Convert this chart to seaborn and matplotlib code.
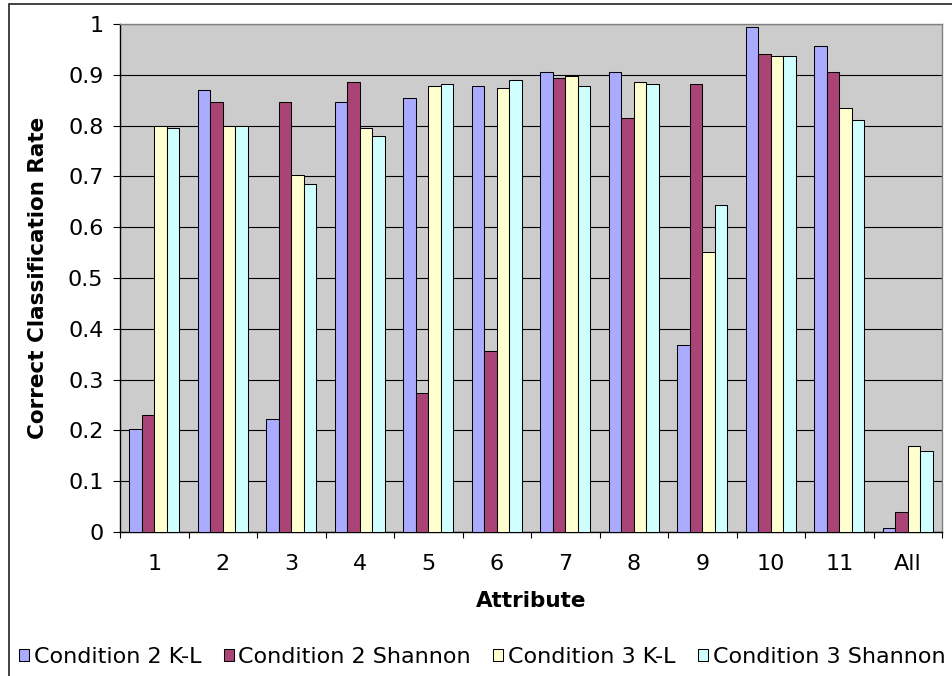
import numpy as np
import pandas as pd
import seaborn as sns
import matplotlib.pyplot as plt
from matplotlib.ticker import FixedLocator, FuncFormatter, MultipleLocator
from matplotlib.patches import Rectangle

attributes = ['1', '2', '3', '4', '5', '6', '7', '8', '9', '10', '11', 'All']
conditions = ['Condition 2 K-L', 'Condition 2 Shannon', 'Condition 3 K-L', 'Condition 3 Shannon']
c2_kl      = [0.203, 0.870, 0.223, 0.846, 0.855, 0.878, 0.905, 0.905, 0.368, 0.995, 0.956, 0.008]
c2_shannon = [0.231, 0.846, 0.846, 0.886, 0.274, 0.356, 0.894, 0.815, 0.882, 0.940, 0.905, 0.039]
c3_kl      = [0.800, 0.800, 0.702, 0.796, 0.878, 0.874, 0.898, 0.886, 0.552, 0.937, 0.835, 0.169]
c3_shannon = [0.796, 0.800, 0.686, 0.780, 0.881, 0.890, 0.878, 0.881, 0.643, 0.937, 0.811, 0.160]
colors = ['#AAAAFF', '#AA4477', '#FFFFD0', '#D0FFFF']

rows = []
for cond, vals in zip(conditions, [c2_kl, c2_shannon, c3_kl, c3_shannon]):
    for a, v in zip(attributes, vals):
        rows.append({'Attribute': a, 'Rate': v, 'Condition': cond})
df = pd.DataFrame(rows)

sns.set_style('white')
plt.rcParams['font.family'] = ['DejaVu Sans']
plt.rcParams['text.color'] = 'black'
plt.rcParams['axes.labelcolor'] = 'black'
plt.rcParams['xtick.color'] = 'black'
plt.rcParams['ytick.color'] = 'black'

fig = plt.figure(figsize=(9.52, 6.76), dpi=100)
ax = fig.add_axes([0.1261, 0.2130, 0.8634, 0.7515])
ax.set_facecolor('#CCCCCC')

sns.barplot(data=df, x='Attribute', y='Rate', hue='Condition', palette=colors,
            order=attributes, hue_order=conditions, width=0.73, saturation=1,
            edgecolor='black', linewidth=0.75, ax=ax, zorder=3)
handles, labels = ax.get_legend_handles_labels()
ax.get_legend().remove()

ax.set_ylim(0, 1)
ax.set_xlim(-0.5, len(attributes) - 0.5)
ax.yaxis.set_major_locator(MultipleLocator(0.1))
ax.yaxis.set_major_formatter(FuncFormatter(lambda v, p: '{:g}'.format(round(v, 1))))
ax.grid(axis='y', color='black', linewidth=0.8, zorder=0)
ax.set_axisbelow(True)

# tick marks at category boundaries, like Excel
ax.xaxis.set_minor_locator(FixedLocator(np.arange(-0.5, len(attributes), 1)))
ax.tick_params(axis='x', which='major', length=0, labelsize=16, pad=16)
ax.tick_params(axis='x', which='minor', length=4.5, width=0.8, color='black', direction='out', bottom=True)
ax.tick_params(axis='y', length=5, width=0.8, color='black', direction='out', left=True, labelsize=16, pad=7)

for s in ['top', 'right']:
    ax.spines[s].set_color('#808080')
    ax.spines[s].set_linewidth(1.0)
for s in ['left', 'bottom']:
    ax.spines[s].set_color('black')
    ax.spines[s].set_linewidth(1.0)

ax.set_xlabel('Attribute', fontsize=15.5, fontweight='bold', labelpad=12)
ax.set_ylabel('Correct Classification Rate', fontsize=15.5, fontweight='bold', labelpad=14)

leg = fig.legend(handles, labels, loc='center left', bbox_to_anchor=(19 / 952, 0.028), ncol=4,
                 frameon=False, fontsize=16, handlelength=0.45, handleheight=0.45,
                 handletextpad=0.22, columnspacing=1.0, borderpad=0, borderaxespad=0)

# chart border (right and bottom edges fall outside the picture)
fig.add_artist(Rectangle((9 / 952, -0.1), 1.2, 1.1 - 4 / 676, transform=fig.transFigure,
                         fill=False, edgecolor='#333333', linewidth=1.3))

fig.savefig('out.png', dpi=100)
